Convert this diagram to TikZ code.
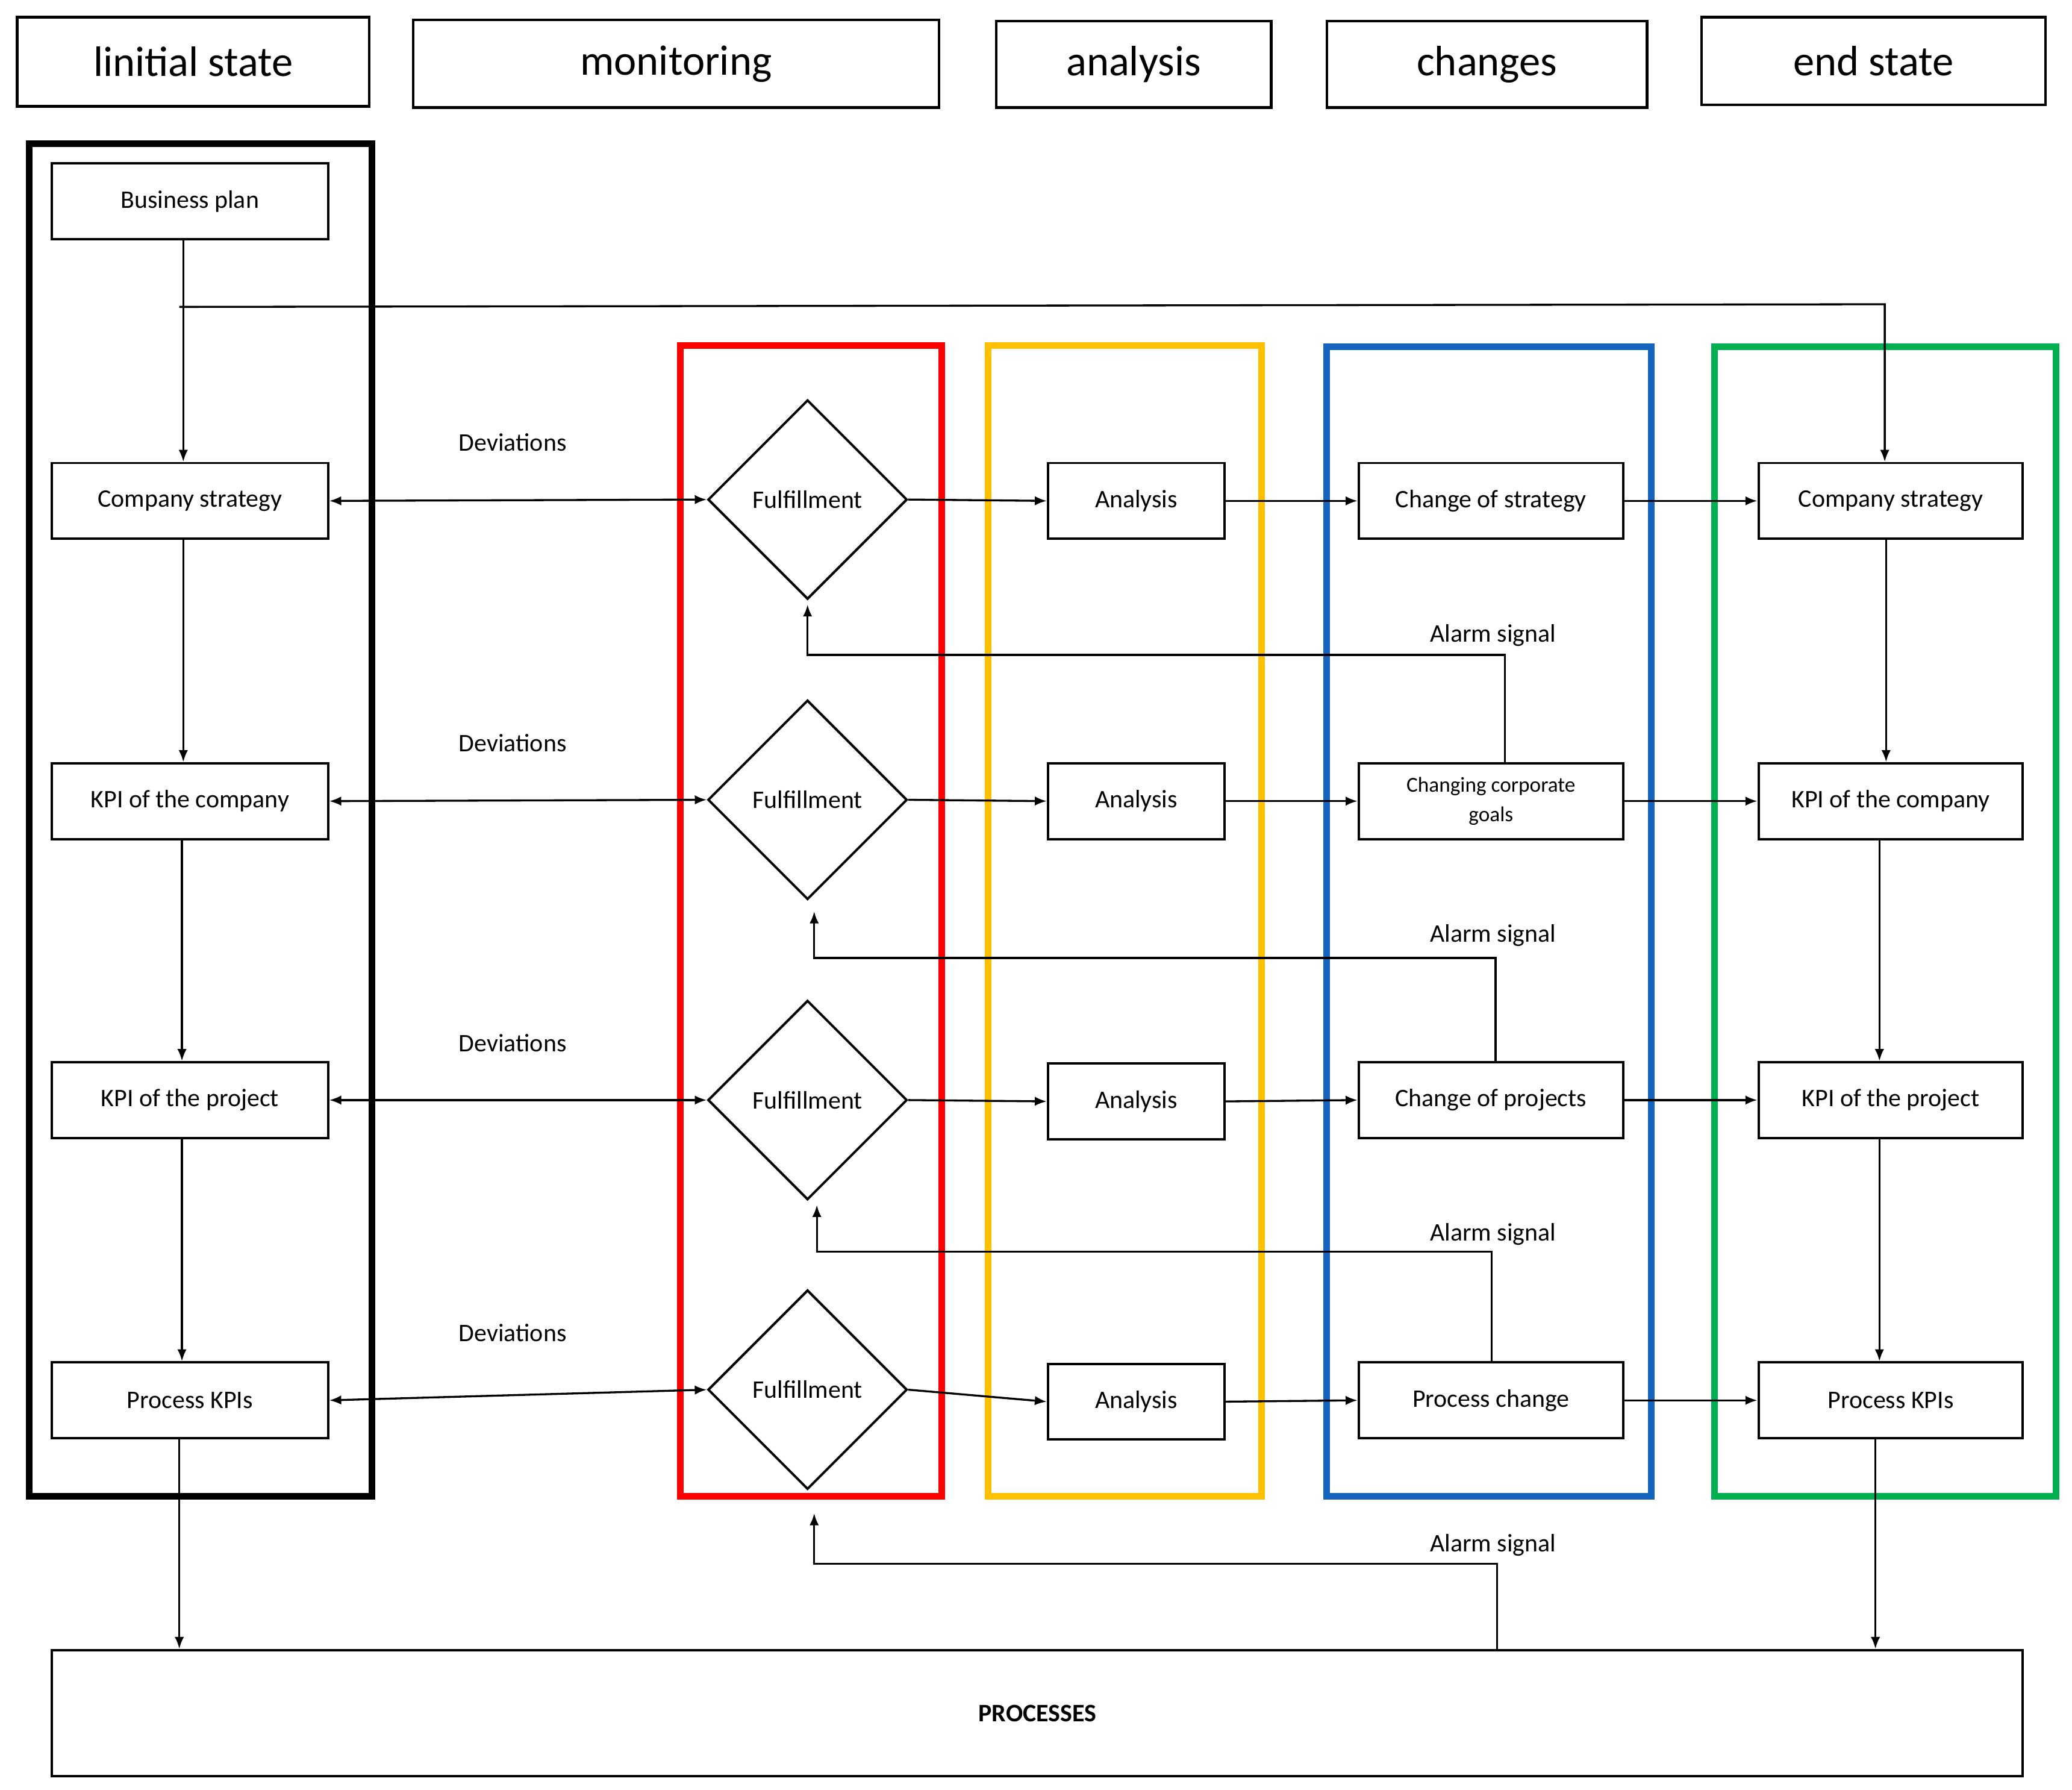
\documentclass[tikz,border=0pt]{standalone}
\usepackage{fontspec}
\setmainfont{Carlito}
\usetikzlibrary{shapes.geometric,arrows.meta}
\definecolor{cred}{RGB}{255,0,0}
\definecolor{cyel}{RGB}{255,192,0}
\definecolor{cblue}{RGB}{21,101,192}
\definecolor{cgreen}{RGB}{0,176,80}
\begin{document}
\begin{tikzpicture}[x=1pt,y=-1pt,
 hdr/.style={draw,line width=2pt,font=\fontsize{32}{36}\selectfont,inner sep=0},
 box/.style={draw,line width=1.8pt,minimum height=57pt,font=\fontsize{19}{21}\selectfont,inner sep=1pt},
 dia/.style={draw,diamond,line width=1.8pt,minimum width=150pt,minimum height=150pt,inner sep=0,font=\fontsize{19}{21}\selectfont},
 frame/.style={line width=5pt},
 arr/.style={-{Latex[length=9pt,width=7pt]},line width=1.5pt},
 darr/.style={{Latex[length=9pt,width=7pt]}-{Latex[length=9pt,width=7pt]},line width=1.5pt},
 lab/.style={font=\fontsize{19}{21}\selectfont}]
\useasboundingbox (0,0) rectangle (1560,1347);
% headers
\node[hdr,minimum width=265pt,minimum height=67pt] (h1) at (145.5,46.5) {linitial state};
\node[hdr,minimum width=396pt,minimum height=66pt] (h2) at (509,48) {monitoring};
\node[hdr,minimum width=207pt,minimum height=65pt] (h3) at (853.5,48.5) {analysis};
\node[hdr,minimum width=241pt,minimum height=65pt] (h4) at (1119.5,48.5) {changes};
\node[hdr,minimum width=259pt,minimum height=66pt] (h5) at (1410.5,46) {end state};
% frames
\draw[frame] (22,108) rectangle (280,1126);
\draw[frame,cred] (512,260) rectangle (709,1126);
\draw[frame,cyel] (744,260) rectangle (950,1126);
\draw[frame,cblue] (999,261) rectangle (1243,1126);
\draw[frame,cgreen] (1291,261) rectangle (1548,1126);
% left boxes
\foreach \n/\y/\t in {bp/151.5/Business plan,l1/377/Company strategy,l2/603/KPI of the company,l3/828/KPI of the project,l4/1054/Process KPIs}
  \node[box,minimum width=208pt] (\n) at (143,\y) {\t};
% diamonds, analysis, changes, right
\foreach \i/\y in {1/376,2/602,3/828,4/1046}{
  \node[dia] (d\i) at (608,\y) {Fulfillment};
  \node[lab] at (386,\y-43) {Deviations};
}
\foreach \i/\y in {1/377,2/603,3/829,4/1055}
  \node[box,minimum width=133pt] (a\i) at (855.5,\y) {Analysis};
\node[box,minimum width=199pt] (c1) at (1122.5,377) {Change of strategy};
\node[box,minimum width=199pt,font=\fontsize{16}{22}\selectfont,align=center] (c2) at (1122.5,603) {Changing corporate\\goals};
\node[box,minimum width=199pt] (c3) at (1122.5,828) {Change of projects};
\node[box,minimum width=199pt] (c4) at (1122.5,1054) {Process change};
\node[box,minimum width=199pt] (r1) at (1423.5,377) {Company strategy};
\node[box,minimum width=199pt] (r2) at (1423.5,603) {KPI of the company};
\node[box,minimum width=199pt] (r3) at (1423.5,828) {KPI of the project};
\node[box,minimum width=199pt] (r4) at (1423.5,1054) {Process KPIs};
\node[draw,line width=1.8pt,minimum width=1484pt,minimum height=95pt,font=\bfseries\fontsize{19}{21}\selectfont] (P) at (781,1289.5) {PROCESSES};
% left chain
\draw[arr] (bp.south -| 138,0) -- (l1.north -| 138,0);
\draw[arr] (l1.south -| 138,0) -- (l2.north -| 138,0);
\draw[arr] (l2.south -| 137,0) -- (l3.north -| 137,0);
\draw[arr] (l3.south -| 137,0) -- (l4.north -| 137,0);
\draw[arr] (l4.south -| 135,0) -- (P.north -| 135,0);
% top line
\draw[arr] (135,231) -- (1419,229) -- (r1.north -| 1419,0);
% right chain
\draw[arr] (r1.south -| 1420,0) -- (r2.north -| 1420,0);
\draw[arr] (r2.south -| 1415,0) -- (r3.north -| 1415,0);
\draw[arr] (r3.south -| 1415,0) -- (r4.north -| 1415,0);
\draw[arr] (r4.south -| 1412,0) -- (P.north -| 1412,0);
% rows
\foreach \i in {1,2,3,4}{
  \draw[darr] (l\i.east) -- (d\i.west);
  \draw[arr] (d\i.east) -- (a\i.west);
  \draw[arr] (a\i.east) -- (c\i.west);
  \draw[arr] (c\i.east) -- (r\i.west);
}
% alarm signals
\draw[arr] (c2.north -| 1133,0) -- (1133,493) -- (608,493) -- (608,455);
\node[lab] at (1124,478) {Alarm signal};
\draw[arr] (c3.north -| 1126,0) -- (1126,721) -- (613,721) -- (613,686);
\node[lab] at (1124,704) {Alarm signal};
\draw[arr] (c4.north -| 1123,0) -- (1123,942) -- (615,942) -- (615,907);
\node[lab] at (1124,929) {Alarm signal};
\draw[arr] (P.north -| 1127,0) -- (1127,1177) -- (613,1177) -- (613,1139);
\node[lab] at (1124,1163) {Alarm signal};
\end{tikzpicture}
\end{document}
